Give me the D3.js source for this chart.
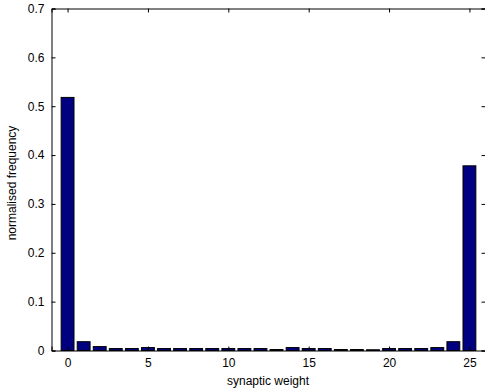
<!DOCTYPE html>
<html><head><meta charset="utf-8">
<script src="https://cdn.jsdelivr.net/npm/d3@7"></script>
<style>body{margin:0;background:#fff}svg{display:block}text{font-family:"Liberation Sans",Arial,sans-serif}</style>
</head><body><svg id="c" width="485" height="391"></svg>
<script>
const categories = d3.range(0, 26);
const values = [0.518, 0.018, 0.008, 0.004, 0.004, 0.006, 0.004, 0.004, 0.004, 0.004,
                0.004, 0.004, 0.004, 0.002, 0.006, 0.004, 0.004, 0.002, 0.002, 0.0015,
                0.004, 0.004, 0.004, 0.006, 0.018, 0.378];
const xTicks = [0, 5, 10, 15, 20, 25];
const yTicks = [0, 0.1, 0.2, 0.3, 0.4, 0.5, 0.6, 0.7];
const xLabel = "synaptic weight";
const yLabel = "normalised frequency";

const svg = d3.select("#c");
const L = 51.5, R = 485.5, T = 8.5, B = 350.5;
const x = d3.scaleLinear().domain([-1, 26]).range([L, R]);
const y = d3.scaleLinear().domain([0, 0.7]).range([B, T]);
const bw = (x(1) - x(0)) * 0.8;

svg.append("g").selectAll("rect").data(values).join("rect")
  .attr("x", (d, i) => x(categories[i]) - bw / 2)
  .attr("y", d => y(d))
  .attr("width", bw)
  .attr("height", d => B - y(d))
  .attr("fill", "#000080").attr("stroke", "#000").attr("stroke-width", 1);

const fmt = d => d === 0 ? "0" : d3.format(".1f")(d);
const gx = svg.append("g").attr("transform", `translate(0,${B})`)
  .call(d3.axisBottom(x).tickValues(xTicks).tickSize(-4).tickPadding(8).tickFormat(d3.format("d")));
const gxt = svg.append("g").attr("transform", `translate(0,${T})`)
  .call(d3.axisTop(x).tickValues(xTicks).tickSize(-4).tickFormat(""));
const gy = svg.append("g").attr("transform", `translate(${L},0)`)
  .call(d3.axisLeft(y).tickValues(yTicks).tickSize(-4).tickPadding(7).tickFormat(fmt));
const gyr = svg.append("g").attr("transform", `translate(${R},0)`)
  .call(d3.axisRight(y).tickValues(yTicks).tickSize(-4).tickFormat(""));
[gx, gxt, gy, gyr].forEach(g => {
  g.selectAll("path").attr("stroke", "#000");
  g.selectAll("line").attr("stroke", "#000");
  g.selectAll("text").attr("font-size", 12).attr("fill", "#000")
    .style("font-family", '"Liberation Sans",Arial,sans-serif');
});

svg.append("text").attr("x", 268).attr("y", 385)
  .attr("text-anchor", "middle").attr("font-size", 12).text(xLabel);
svg.append("text").attr("transform", `translate(16,183) rotate(-90)`)
  .attr("text-anchor", "middle").attr("font-size", 12).text(yLabel);
</script></body></html>
